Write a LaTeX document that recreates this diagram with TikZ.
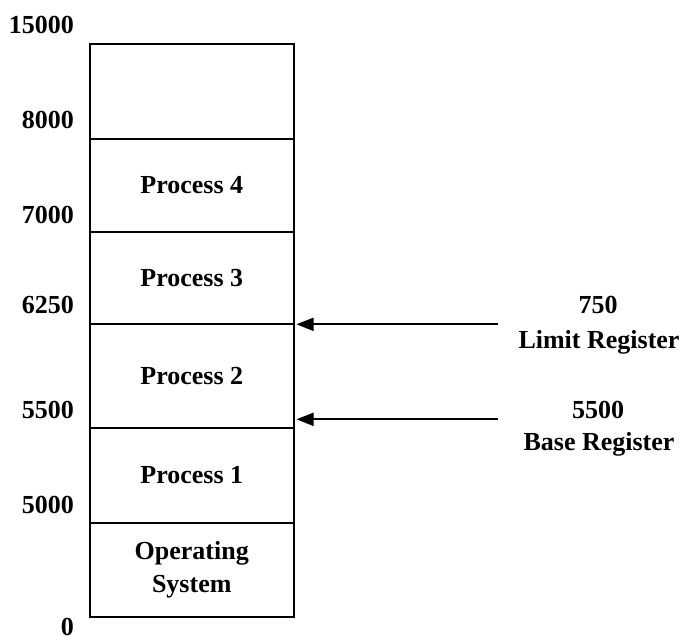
\documentclass[tikz,border=0pt]{standalone}
\usepackage{fontspec}
\setmainfont{Liberation Serif}
\usetikzlibrary{arrows.meta}
\begin{document}
\begin{tikzpicture}[x=1pt,y=-1pt,
  every node/.style={font=\fontsize{26}{33.3}\selectfont\bfseries},
  region/.style={draw,line width=2pt,minimum width=204.5pt,inner sep=0pt,align=center},
  addr/.style={anchor=base east,inner sep=0pt},
  reglabel/.style={anchor=base,inner sep=0pt},
  pointer/.style={line width=1.8pt,-{Triangle[length=17pt,width=13pt]}}]
\useasboundingbox (0,0) rectangle (682,642);
% memory regions
\node[region,minimum height=94.7pt] (free) at (191.75,91.35) {};
\node[region,minimum height=93.6pt] (p4) at (191.75,185.5) {Process 4};
\node[region,minimum height=91.7pt] (p3) at (191.75,278.15) {Process 3};
\node[region,minimum height=103.7pt] (p2) at (191.75,375.85) {Process 2};
\node[region,minimum height=95.3pt] (p1) at (191.75,475.35) {Process 1};
\node[region,minimum height=94pt] (os) at (191.75,570) {Operating\\System};
% addresses
\node[addr] (a15000) at (74,33.3) {15000};
\node[addr] (a8000) at (74,128) {8000};
\node[addr] (a7000) at (74,223) {7000};
\node[addr] (a6250) at (74,313) {6250};
\node[addr] (a5500) at (74,418) {5500};
\node[addr] (a5000) at (74,513) {5000};
\node[addr] (a0) at (74,635) {0};
% registers
\node[reglabel] (limv) at (598,313) {750};
\node[reglabel] (limn) at (599,348.3) {Limit Register};
\node[reglabel] (basev) at (598,418.3) {5500};
\node[reglabel] (basen) at (599,450) {Base Register};
\coordinate (limtail) at (498,324.3);
\coordinate (limhead) at (296.5,324.3);
\coordinate (basetail) at (498,419.3);
\coordinate (basehead) at (296.5,419.3);
\draw[pointer] (limtail) -- (limhead);
\draw[pointer] (basetail) -- (basehead);
\end{tikzpicture}
\end{document}
